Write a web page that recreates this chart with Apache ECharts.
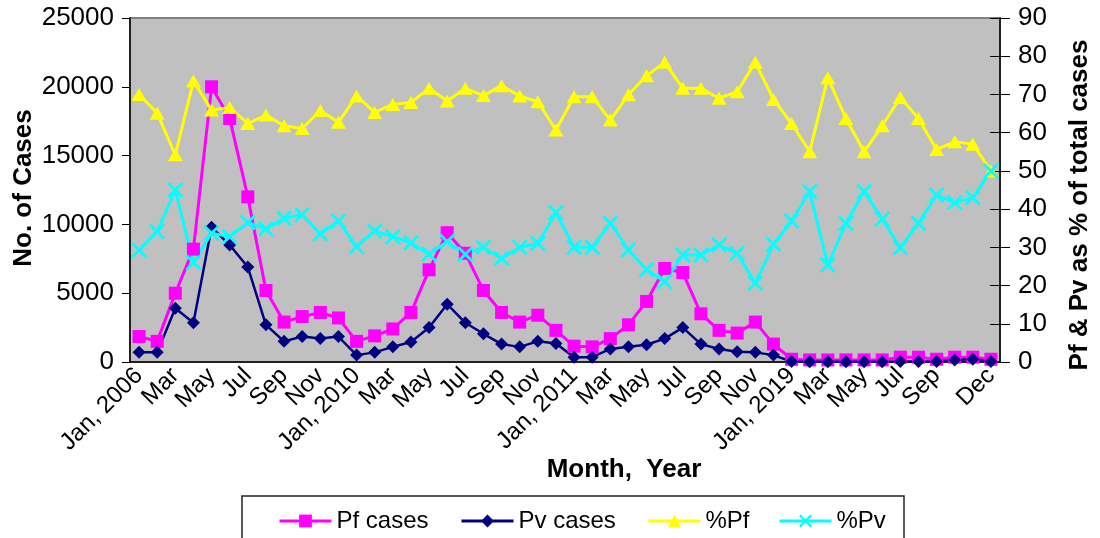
<!DOCTYPE html>
<html>
<head>
<meta charset="utf-8">
<script src="https://cdn.jsdelivr.net/npm/echarts@6/dist/echarts.min.js"></script>
<style>
	html, body { margin: 0; padding: 0; background: #fff; }
	#chart { width: 1100px; height: 538px; }
</style>
</head>
<body>
<div id="chart"></div>
<script>
// months in each block of the x axis
const years = [ "2006", "2010", "2011", "2019" ];
const months = [ "Jan", "Feb", "Mar", "Apr", "May", "Jun", "Jul", "Aug", "Sep", "Oct", "Nov", "Dec" ];
// which category indices carry a tick label
const labelledIdx = [ 0, 2, 4, 6, 8, 10, 12, 14, 16, 18, 20, 22, 24, 26, 28, 30, 32, 34, 36, 38, 40, 42, 44, 47 ];

const pfCases = [ 1850, 1500, 5000, 8200, 20000, 17700, 12000, 5200, 2900, 3300, 3600, 3200,
	1500, 1900, 2400, 3600, 6700, 9400, 7900, 5200, 3600, 2900, 3400, 2300,
	1150, 1100, 1700, 2700, 4400, 6800, 6500, 3500, 2300, 2100, 2900, 1300,
	200, 150, 150, 150, 150, 150, 350, 350, 200, 350, 350, 200 ];
const pvCases = [ 700, 700, 3900, 2850, 9800, 8500, 6900, 2700, 1500, 1850, 1700, 1850,
	500, 700, 1100, 1450, 2500, 4200, 2850, 2050, 1300, 1100, 1500, 1350,
	350, 350, 950, 1100, 1250, 1700, 2500, 1300, 950, 750, 700, 500,
	30, 20, 20, 20, 20, 20, 30, 30, 30, 150, 200, 30 ];
const pctPf = [ 70.0, 65.1, 54.2, 73.5, 65.9, 66.6, 62.4, 64.6, 61.8, 61.1, 65.8, 62.7,
	69.6, 65.3, 67.4, 67.9, 71.6, 68.3, 71.6, 69.7, 72.3, 69.6, 68.1, 60.7,
	69.4, 69.4, 63.3, 69.9, 74.9, 78.4, 71.6, 71.6, 69.0, 70.7, 78.4, 68.7,
	62.4, 55.0, 74.4, 63.7, 55.0, 61.8, 69.2, 63.7, 55.6, 57.6, 57.0, 50.0 ];
const pctPv = [ 29.3, 34.1, 45.0, 26.0, 33.7, 32.8, 36.5, 34.8, 37.6, 38.5, 33.5, 36.9,
	30.2, 34.3, 32.8, 31.2, 28.2, 31.5, 28.2, 30.0, 27.1, 30.0, 31.0, 39.1,
	30.0, 30.0, 36.3, 29.3, 24.2, 21.0, 28.0, 28.0, 30.6, 28.4, 20.6, 30.8,
	36.9, 44.6, 25.4, 36.3, 44.6, 37.4, 29.9, 36.3, 43.7, 41.7, 43.0, 50.0 ];

const categories = [];
years.forEach( y => {
	months.forEach( ( m, i ) => {
		categories.push( i === 0 ? `${ m }, ${ y }` : m );
	} );
} );

const font = "'Liberation Sans', Arial, sans-serif";
const crossSymbol = "path://M0,1.2L1.2,0L5,3.8L8.8,0L10,1.2L6.2,5L10,8.8L8.8,10L5,6.2L1.2,10L0,8.8L3.8,5Z";

const chart = echarts.init( document.getElementById( "chart" ) );

const legendBase = {
	top: 504,
	itemWidth: 52,
	itemHeight: 16,
	lineStyle: { width: 3 },
	textStyle: { fontFamily: font, fontSize: 24, color: "#000" }
};

chart.setOption( {
	animation: false,
	textStyle: { fontFamily: font },
	grid: {
		left: 130,
		right: 100,
		top: 18,
		bottom: 176,
		show: true,
		backgroundColor: "#c0c0c0",
		borderColor: "#808080",
		borderWidth: 2
	},
	legend: [
		Object.assign( {}, legendBase, { left: 273, data: [ "Pf cases" ] } ),
		Object.assign( {}, legendBase, { left: 455, data: [ "Pv cases" ] } ),
		Object.assign( {}, legendBase, { left: 642, data: [ "%Pf" ] } ),
		Object.assign( {}, legendBase, { left: 773, data: [ "%Pv" ] } )
	],
	graphic: [
		{
			type: "rect",
			shape: { x: 242, y: 496, width: 662, height: 60 },
			style: { fill: "none", stroke: "#222", lineWidth: 1.5 },
			silent: true
		},
		{
			type: "text",
			x: 24,
			y: 188,
			rotation: Math.PI / 2,
			style: {
				text: "No. of Cases",
				font: `bold 26px ${ font }`,
				fill: "#000",
				align: "center",
				verticalAlign: "middle"
			}
		},
		{
			type: "text",
			x: 1080,
			y: 205,
			rotation: Math.PI / 2,
			style: {
				text: "Pf & Pv as % of total cases",
				font: `bold 26px ${ font }`,
				fill: "#000",
				align: "center",
				verticalAlign: "middle"
			}
		},
		{
			type: "text",
			x: 624,
			y: 470,
			style: {
				text: "Month,  Year",
				font: `bold 26px ${ font }`,
				fill: "#000",
				align: "center",
				verticalAlign: "middle"
			}
		}
	],
	xAxis: {
		type: "category",
		data: categories,
		boundaryGap: true,
		axisLine: { lineStyle: { color: "#000", width: 1.5 } },
		axisTick: { interval: 0, length: 8, lineStyle: { color: "#000" } },
		axisLabel: {
			interval: ( i ) => labelledIdx.includes( i ),
			rotate: 45,
			margin: 10,
			color: "#000",
			fontSize: 24,
			fontFamily: font
		}
	},
	yAxis: [
		{
			type: "value",
			min: 0,
			max: 25000,
			interval: 5000,
			splitLine: { show: false },
			axisLine: { show: true, lineStyle: { color: "#000", width: 1.5 } },
			axisTick: { show: true, length: 8, lineStyle: { color: "#000" } },
			axisLabel: {
				margin: 16,
				color: "#000",
				fontSize: 26,
				fontFamily: font,
				formatter: v => String( v )
			}
		},
		{
			type: "value",
			position: "right",
			min: 0,
			max: 90,
			interval: 10,
			splitLine: { show: false },
			axisLine: { show: true, lineStyle: { color: "#000", width: 1.5 } },
			axisTick: { show: true, length: 10, lineStyle: { color: "#000" } },
			axisLabel: { margin: 18, color: "#000", fontSize: 26, fontFamily: font }
		},
		{
			// inner half of the crossing ticks on the right axis
			type: "value",
			position: "right",
			min: 0,
			max: 90,
			interval: 10,
			splitLine: { show: false },
			axisLine: { show: false },
			axisTick: { show: true, inside: true, length: 10, lineStyle: { color: "#000" } },
			axisLabel: { show: false }
		}
	],
	series: [
		{
			name: "Pf cases",
			type: "line",
			data: pfCases,
			symbol: "rect",
			symbolSize: 13,
			showAllSymbol: true,
			color: "#ff00ff",
			lineStyle: { width: 3 }
		},
		{
			name: "Pv cases",
			type: "line",
			data: pvCases,
			symbol: "diamond",
			symbolSize: 13,
			showAllSymbol: true,
			color: "#000080",
			lineStyle: { width: 2.5 }
		},
		{
			name: "%Pf",
			type: "line",
			yAxisIndex: 1,
			data: pctPf,
			symbol: "triangle",
			symbolSize: [ 15, 13 ],
			showAllSymbol: true,
			color: "#ffff00",
			lineStyle: { width: 3 }
		},
		{
			name: "%Pv",
			type: "line",
			yAxisIndex: 1,
			data: pctPv,
			symbol: crossSymbol,
			symbolSize: 16,
			showAllSymbol: true,
			color: "#00ffff",
			lineStyle: { width: 3 }
		}
	]
} );
</script>
</body>
</html>
